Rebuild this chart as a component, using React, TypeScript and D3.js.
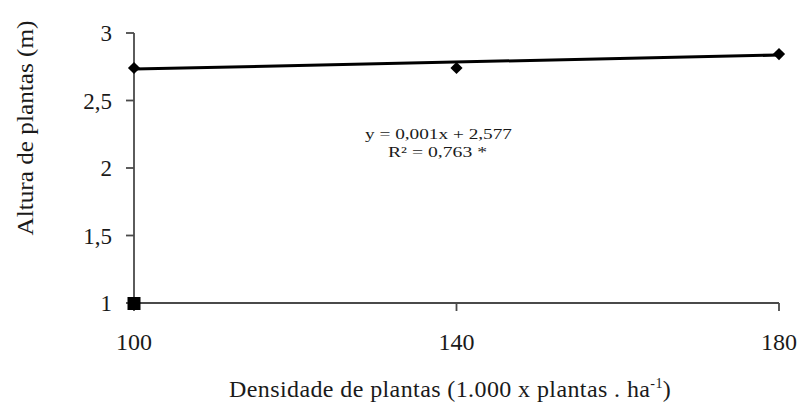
import React from "react";
import * as d3 from "d3";

const xTicks = [100, 140, 180];
const yTicks = [1, 1.5, 2, 2.5, 3];
const yTickLabels = ["1", "1,5", "2", "2,5", "3"];
const pointX = [100, 140, 180];
const pointY = [2.741, 2.741, 2.844];
const fitX = [100, 180];
const fitY = [2.733, 2.837];
const squareX = [100];
const squareY = [1];
const equationLines = ["y = 0,001x + 2,577", "R² = 0,763 *"];

const W = 801;
const H = 403;
const FONT = "'Liberation Serif', 'DejaVu Serif', serif";

export default function App() {
  const x = d3.scaleLinear().domain([100, 180]).range([134, 779]);
  const y = d3.scaleLinear().domain([1, 3]).range([303, 33]);
  const line = d3
    .line<number>()
    .x((d) => x(d))
    .y((_, i) => y(fitY[i]));
  const axisColor = "#4a4a4a";
  const textColor = "#1a1a1a";
  const ts = { fontFamily: FONT };
  return (
    <svg
      width={W}
      height={H}
      style={{ position: "absolute", left: 0, top: 0, background: "#fff" }}
    >
      {/* axes */}
      <line x1={x(100)} x2={x(180)} y1={y(1)} y2={y(1)} stroke={axisColor} strokeWidth={1.8} />
      <line x1={x(100)} x2={x(100)} y1={y(1)} y2={y(3)} stroke={axisColor} strokeWidth={1.8} />
      {yTicks.map((t, i) => (
        <g key={t}>
          <line x1={x(100) - 8} x2={x(100)} y1={y(t)} y2={y(t)} stroke={axisColor} strokeWidth={1.8} />
          <text x={112} y={y(t)} dy="0.35em" textAnchor="end" fontSize={23} fill={textColor} style={ts}>
            {yTickLabels[i]}
          </text>
        </g>
      ))}
      {xTicks.map((t) => (
        <g key={t}>
          <line x1={x(t)} x2={x(t)} y1={y(1)} y2={y(1) + 8} stroke={axisColor} strokeWidth={1.8} />
          <text x={x(t)} y={350} textAnchor="middle" fontSize={24} fill={textColor} style={ts}>
            {t}
          </text>
        </g>
      ))}
      {/* fit line */}
      <path d={line(fitX) || ""} stroke="#000" strokeWidth={3} fill="none" />
      {pointX.map((px, i) => (
        <rect
          key={px}
          x={-4.3}
          y={-4.3}
          width={8.6}
          height={8.6}
          transform={`translate(${x(px)},${y(pointY[i])}) rotate(45)`}
          fill="#000"
        />
      ))}
      {squareX.map((sx, i) => (
        <rect key={sx} x={x(sx) - 6.5} y={y(squareY[i]) - 6} width={13} height={13} fill="#000" />
      ))}
      {/* equation */}
      <text x={365} y={139} fontSize={15} fill={textColor} style={ts} textLength={147} lengthAdjust="spacingAndGlyphs">
        {equationLines[0]}
      </text>
      <text x={388} y={157} fontSize={15} fill={textColor} style={ts} textLength={99} lengthAdjust="spacingAndGlyphs">
        {equationLines[1]}
      </text>
      {/* axis titles */}
      <text
        transform={`translate(33,128) rotate(-90)`}
        textAnchor="middle"
        fontSize={24}
        fill={textColor}
        style={ts}
        textLength={215}
        lengthAdjust="spacingAndGlyphs"
      >
        Altura de plantas (m)
      </text>
      <text x={229} y={397} fontSize={24} fill={textColor} style={{ ...ts, letterSpacing: "0.4px" }}>
        Densidade de plantas (1.000 x plantas . ha
        <tspan dy={-9} fontSize={14}>-1</tspan>
        <tspan dy={9}>)</tspan>
      </text>
    </svg>
  );
}
